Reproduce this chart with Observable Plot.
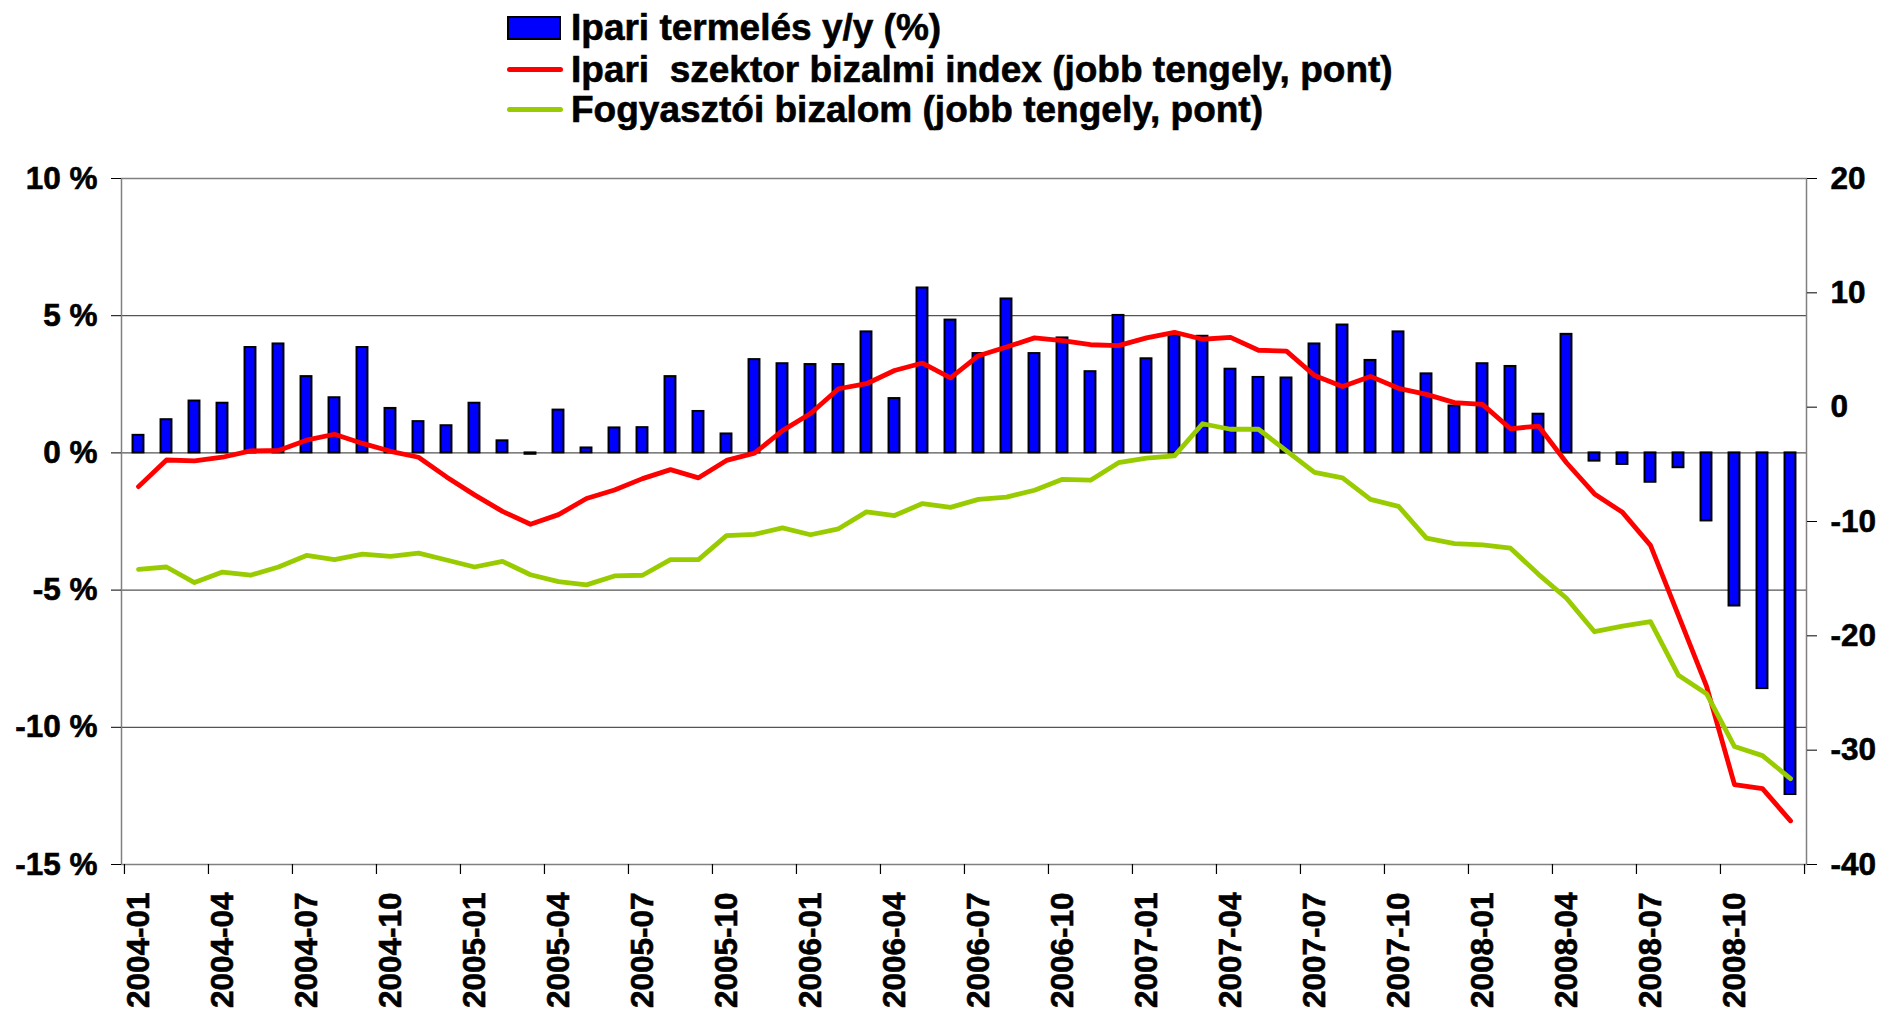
<!DOCTYPE html>
<html>
<head>
<meta charset="utf-8">
<script src="https://cdn.jsdelivr.net/npm/d3@7"></script>
<script src="https://cdn.jsdelivr.net/npm/@observablehq/plot@0.6"></script>
<style>
  body { margin: 0; background: #fff; font-family: "Liberation Sans", Arial, sans-serif; }
  #legend { position: relative; height: 130px; width: 1881px; }
  .row { position: absolute; left: 507px; height: 41px; display: flex; align-items: center;
         font-weight: bold; font-size: 37px; white-space: pre; line-height: 41px; color: #000;
         -webkit-text-stroke: 0.6px #000; }
  .sw { width: 56px; margin-right: 8px; display: flex; align-items: center; }
  .sw-bar { width: 50px; height: 20px; background: #0000ff; border: 2.5px solid #000; }
  .sw-line { width: 56px; height: 5px; border-radius: 3px; }
  #chart svg text { stroke: #000; stroke-width: 0.6px; }
</style>
</head>
<body>
<div id="legend"></div>
<div id="chart"></div>
<script>
// ---- data ----
const months = [
  "2004-01","2004-02","2004-03","2004-04","2004-05","2004-06","2004-07","2004-08","2004-09","2004-10","2004-11","2004-12",
  "2005-01","2005-02","2005-03","2005-04","2005-05","2005-06","2005-07","2005-08","2005-09","2005-10","2005-11","2005-12",
  "2006-01","2006-02","2006-03","2006-04","2006-05","2006-06","2006-07","2006-08","2006-09","2006-10","2006-11","2006-12",
  "2007-01","2007-02","2007-03","2007-04","2007-05","2007-06","2007-07","2007-08","2007-09","2007-10","2007-11","2007-12",
  "2008-01","2008-02","2008-03","2008-04","2008-05","2008-06","2008-07","2008-08","2008-09","2008-10","2008-11","2008-12"
];
// Ipari termelés y/y (%) – left axis
const production = [
  0.64, 1.21, 1.89, 1.81, 3.84, 3.97, 2.78, 2.01, 3.84, 1.62, 1.14, 0.99,
  1.81, 0.44, -0.05, 1.56, 0.18, 0.91, 0.92, 2.78, 1.51, 0.69, 3.40, 3.25,
  3.22, 3.22, 4.41, 1.98, 6.01, 4.84, 3.62, 5.61, 3.62, 4.19, 2.96, 5.01,
  3.43, 4.27, 4.25, 3.05, 2.75, 2.73, 3.97, 4.66, 3.37, 4.41, 2.88, 1.71,
  3.25, 3.15, 1.41, 4.32, -0.30, -0.42, -1.07, -0.54, -2.48, -5.58, -8.59, -12.45
];
// Ipari szektor bizalmi index – right axis (points)
const industryConf = [
  -6.95, -4.62, -4.70, -4.38, -3.82, -3.78, -2.89, -2.37, -3.17, -3.86, -4.38, -6.10,
  -7.67, -9.12, -10.24, -9.40, -7.99, -7.25, -6.25, -5.46, -6.18, -4.66, -4.02, -2.05,
  -0.56, 1.61, 2.05, 3.21, 3.86, 2.57, 4.50, 5.26, 6.06, 5.82, 5.46, 5.38,
  6.06, 6.55, 5.94, 6.10, 4.98, 4.90, 2.77, 1.81, 2.69, 1.65, 1.12, 0.40,
  0.24, -1.89, -1.65, -4.86, -7.59, -9.20, -12.09, -18.23, -24.40, -33.01, -33.37, -36.18
];
// Fogyasztói bizalom – right axis (points)
const consumerConf = [
  -14.18, -13.98, -15.34, -14.42, -14.70, -13.98, -12.97, -13.33, -12.85, -13.05, -12.77, -13.37,
  -13.98, -13.49, -14.66, -15.26, -15.54, -14.76, -14.70, -13.33, -13.33, -11.24, -11.12, -10.56,
  -11.16, -10.64, -9.16, -9.48, -8.43, -8.76, -8.07, -7.87, -7.27, -6.31, -6.39, -4.86,
  -4.46, -4.26, -1.45, -1.93, -1.93, -3.82, -5.70, -6.18, -8.07, -8.67, -11.45, -11.93,
  -12.05, -12.33, -14.62, -16.71, -19.64, -19.16, -18.76, -23.45, -25.06, -29.68, -30.48, -32.49
];
const leftTicks = [-15, -10, -5, 0, 5, 10];
const rightTicks = [-40, -30, -20, -10, 0, 10, 20];
const xTickLabels = [
  "2004-01","2004-04","2004-07","2004-10","2005-01","2005-04","2005-07","2005-10",
  "2006-01","2006-04","2006-07","2006-10","2007-01","2007-04","2007-07","2007-10",
  "2008-01","2008-04","2008-07","2008-10"
];
const seriesNames = [
  "Ipari termelés y/y (%)",
  "Ipari  szektor bizalmi index (jobb tengely, pont)",
  "Fogyasztói bizalom (jobb tengely, pont)"
];
const colors = ["#0000ff", "#ff0000", "#99cc00"];

// ---- legend ----
const legend = document.getElementById("legend");
const rowTops = [7, 49, 89];
seriesNames.forEach((name, i) => {
  const row = document.createElement("div");
  row.className = "row";
  row.style.top = rowTops[i] + "px";
  const sw = document.createElement("div");
  sw.className = "sw";
  const inner = document.createElement("div");
  if (i === 0) { inner.className = "sw-bar"; }
  else { inner.className = "sw-line"; inner.style.background = colors[i]; }
  sw.appendChild(inner);
  const txt = document.createElement("span");
  txt.textContent = name;
  row.appendChild(sw);
  row.appendChild(txt);
  legend.appendChild(row);
});

// ---- chart ----
const W = 1881, H = 880, ML = 121, MR = 75, MT = 48, MB = 146;
const bw = (W - ML - MR) / months.length;
const barW = 11;
const toLeft = v => (v + 4) / 2.4;      // right axis (points) -> left axis (%)
const fromLeft = v => v * 2.4 - 4;
const rows = months.map((m, i) => ({month: m, prod: production[i], ind: industryConf[i], cons: consumerConf[i]}));
const tickMonths = months.filter((m, i) => i % 3 === 0);

const chart = Plot.plot({
  width: W, height: H,
  marginLeft: ML, marginRight: MR, marginTop: MT, marginBottom: MB,
  style: {fontFamily: "'Liberation Sans', Arial, sans-serif", fontWeight: "bold", fontSize: "31.5px", color: "#000", background: "#fff", overflow: "visible"},
  x: {type: "band", domain: months, padding: 0, axis: null, label: null},
  y: {domain: [-15, 10], axis: null, label: null},
  marks: [
    Plot.ruleY(leftTicks, {stroke: "#555", strokeWidth: 1.2}),
    Plot.frame({stroke: "#808080", strokeWidth: 1.5}),
    Plot.barY(rows, {x: "month", y: "prod", fill: colors[0], stroke: "#000", strokeWidth: 2,
      insetLeft: (bw - barW) / 2, insetRight: (bw - barW) / 2}),
    Plot.line(rows, {x: "month", y: d => toLeft(d.ind), stroke: colors[1], strokeWidth: 4.8}),
    Plot.line(rows, {x: "month", y: d => toLeft(d.cons), stroke: colors[2], strokeWidth: 4.8}),
    Plot.axisY(leftTicks, {anchor: "left", tickSize: 10, tickPadding: 14, label: null,
      tickFormat: d => `${d} %`}),
    Plot.axisY(rightTicks.map(toLeft), {anchor: "right", tickSize: 10, tickPadding: 14, label: null,
      tickFormat: d => String(Math.round(fromLeft(d)))}),
    Plot.ruleX(tickMonths, {x: d => d, dx: -bw / 2, y1: -15, y2: -15, insetBottom: -10, stroke: "#000", strokeWidth: 1.2}),
    Plot.ruleX([months[months.length - 1]], {x: d => d, dx: bw / 2, y1: -15, y2: -15, insetBottom: -10, stroke: "#000", strokeWidth: 1.2}),
    Plot.axisX(xTickLabels, {anchor: "bottom", tickSize: 0, tickPadding: 28, tickRotate: -90, label: null})
  ]
});
document.getElementById("chart").appendChild(chart);
</script>
</body>
</html>
